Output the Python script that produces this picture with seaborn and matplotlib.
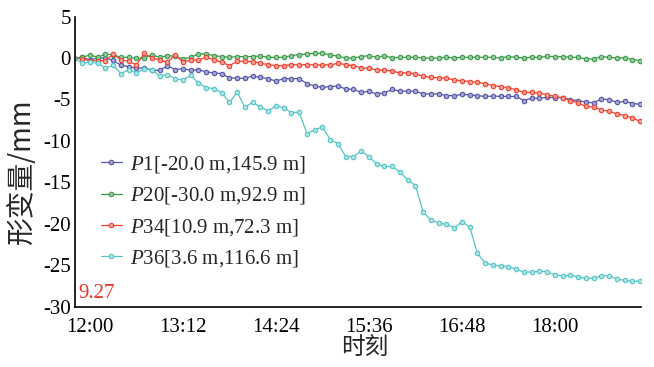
import numpy as np
import pandas as pd
import matplotlib
matplotlib.use("Agg")
import matplotlib.pyplot as plt
import seaborn as sns

# time in minutes relative to 12:00, 6-minute sampling from 11:48
start_min = -12
step_min = 6

p1 = [0, 0.07, -0.25, 0, 0, -0.3, -0.9, -1.05, -1.25, -1.2, -1.5, -1.5, -0.95, -1.4, -1.3, -1.5,
      -1.4, -1.7, -1.8, -1.9, -2.4, -2.45, -2.45, -2.2, -2.35, -2.5, -2.8, -2.5, -2.5, -2.5,
      -3.1, -3.4, -3.55, -3.45, -3.4, -3.75, -3.8,
      -4.15, -4.05, -4.35, -4.2, -3.8, -4.0, -4.0, -4.0, -4.35, -4.35, -4.35, -4.55, -4.55, -4.4,
      -4.45, -4.55, -4.65, -4.6,
      -4.65, -4.65, -4.65, -5.15, -4.85, -4.85, -4.75, -4.8, -4.8, -5.05, -5.15, -5.35, -5.4,
      -4.95, -5.05, -5.35, -5.25, -5.5, -5.6]

p20 = [0, 0.07, 0.36, 0.07, 0.48, 0.36, 0.07, 0.07, -0.05, 0, 0.36, 0.07, 0.28, 0.19, -0.12, 0.07,
       0.48, 0.48,
       0.28, 0.16, 0.07, 0.16, 0.16, 0.16, 0.24, 0.07, 0.07, 0.07, 0.28, 0.4, 0.48, 0.55, 0.55,
       0.4, 0.19, 0, 0, 0.16,
       0.28, 0.07, 0.28, 0, 0.07, 0.07, 0.07, 0, -0.05, 0, 0.07, 0, 0.07, 0.07, 0.07, 0.07, 0.07,
       0, 0.16, 0.07, 0, 0.07, 0.07, 0.19, 0.16, 0.16, 0.07, 0.07, -0.12, -0.12, 0.16, 0.07, 0,
       0, -0.2, -0.33]

p34 = [0, -0.12, -0.33, -0.33, -0.33, 0.48, -0.24, -0.4, -0.84, 0.55, 0, -0.24, -0.53, 0.36,
       -0.53, -0.24, -0.24, 0.07,
       -0.2, -0.53, -0.93, -0.4, -0.4, -0.45, -0.65, -0.8, -0.93, -0.93, -0.8, -0.84, -0.8, -0.84,
       -0.84, -0.84, -0.65, -0.8, -0.93, -1.2,
       -1.25, -1.45, -1.45, -1.6, -1.8, -1.8, -1.95, -2.2, -2.35, -2.4, -2.45, -2.65, -2.75,
       -2.85, -2.95, -3.1, -3.35,
       -3.45, -3.6, -3.85, -4.15, -4.15, -4.25, -4.45, -4.65, -4.8, -5.15, -5.45, -5.85, -5.95,
       -6.25, -6.45, -6.75, -6.95, -7.25, -7.65]

p36 = [0, -0.65, -0.5, -0.65, -1.2, -0.9, -1.9, -1.4, -1.8, -1.3, -1.4, -2.2, -2.0, -2.5, -2.65,
       -2.1, -3.05, -3.6, -3.7, -4.2, -5.35, -4.15, -5.95, -5.35, -5.95, -6.4, -5.75,
       -6.0, -6.6, -6.55, -9.15, -8.65, -8.35, -9.85, -10.35, -11.9, -11.9, -11.25, -11.9,
       -12.85, -13.1, -13.1, -13.8, -14.7, -15.4, -18.6, -19.6, -19.9, -20.1, -20.5, -19.8,
       -20.4, -23.6,
       -24.75, -25.0, -25.1, -25.2, -25.5, -25.85, -25.85, -25.75, -25.8, -26.2, -26.3, -26.2,
       -26.45, -26.6, -26.6, -26.3, -26.3, -26.7, -26.85, -26.95, -26.95]

labels = ["$P$1[-20.0 m,145.9 m]", "$P$20[-30.0 m,92.9 m]",
          "$P$34[10.9 m,72.3 m]", "$P$36[3.6 m,116.6 m]"]
tick_minutes = [0, 72, 144, 216, 288, 360]
tick_labels = ["12:00", "13:12", "14:24", "15:36", "16:48", "18:00"]
y_ticks = [5, 0, -5, -10, -15, -20, -25, -30]

colors = ["#5656a8", "#3d9a4c", "#f0402e", "#55c4c6"]
face = ["#a4a4d6", "#92cc9a", "#f8a098", "#b0e6e6"]

sns.set_style("white")
plt.rcParams["font.family"] = ["Liberation Serif", "Noto Sans CJK SC"]
plt.rcParams["mathtext.fontset"] = "custom"
plt.rcParams["mathtext.it"] = "Liberation Serif:italic"
plt.rcParams["mathtext.rm"] = "Liberation Serif"
plt.rcParams["axes.unicode_minus"] = False

fig = plt.figure(figsize=(6.54, 3.67), dpi=100)
ax = fig.add_axes([75 / 654, 1 - 306.5 / 367, (641 - 75) / 654, (306.5 - 16.5) / 367])

series = [p1, p20, p34, p36]
frames = []
for lab, vals in zip(labels, series):
    t = start_min + step_min * np.arange(len(vals))
    frames.append(pd.DataFrame({"t": t, "v": vals, "s": lab}))
df = pd.concat(frames, ignore_index=True)

for lab, c, fc in zip(labels, colors, face):
    sub = df[df["s"] == lab]
    sns.lineplot(data=sub, x="t", y="v", ax=ax, color=c, linewidth=0.9, marker="o",
                 markersize=3.2, markerfacecolor=fc, markeredgecolor=c, markeredgewidth=0.8,
                 label=lab, estimator=None, sort=False)

ax.set_xlim(-11.6, 426.6)
ax.set_ylim(-30, 5)
ax.set_xticks(tick_minutes)
ax.set_xticklabels(tick_labels)
ax.set_yticks(y_ticks)
ax.set_yticklabels([str(v) for v in y_ticks])
ax.tick_params(direction="in", length=4, width=1, labelsize=15, colors="black")
ax.tick_params(axis="x", pad=8)
ax.tick_params(axis="y", pad=3)
for s in ["top", "right"]:
    ax.spines[s].set_visible(False)
for s in ["left", "bottom"]:
    ax.spines[s].set_color("black")
    ax.spines[s].set_linewidth(1.2)

ax.set_xlabel("时刻", fontsize=17, family=["Noto Sans CJK SC"])
ax.xaxis.set_label_coords((365 - 75) / 566, -(348 - 306.5) / 290)
ax.xaxis.label.set_va("center")
ax.set_ylabel("形变量/mm", fontsize=20, family=["Noto Sans CJK SC", "Liberation Serif"])
ax.yaxis.set_label_coords((22 - 75) / 566, (306.5 - 171) / 290)
ax.yaxis.label.set_va("center")

leg = ax.legend(loc="upper left", bbox_to_anchor=(0.031, 0.555), frameon=False, fontsize=15,
                handlelength=1.0, handletextpad=0.4, labelspacing=0.5, borderaxespad=0)

ax.text(0.006, 0.012, "9.27", transform=ax.transAxes, color="#e8342a", fontsize=15,
        ha="left", va="bottom")

fig.savefig("out.png", dpi=100)
